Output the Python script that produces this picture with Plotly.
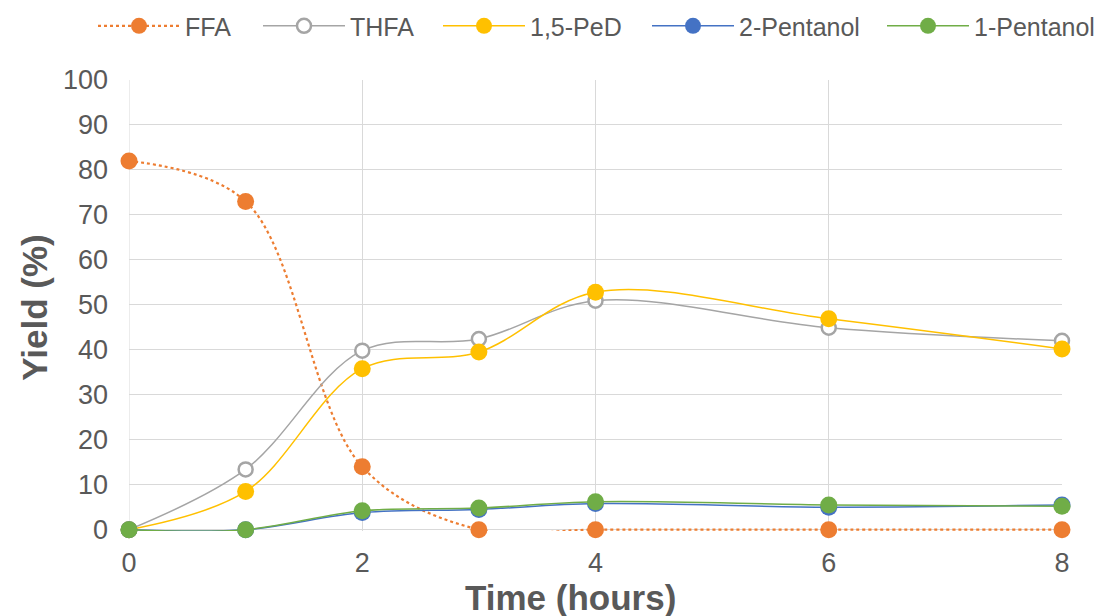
import plotly.graph_objects as go

time_h = [0, 1, 2, 3, 4, 6, 8]
ffa = [82, 73, 14, 0, 0, 0, 0]
thfa = [0, 13.4, 39.8, 42.4, 50.9, 44.9, 42]
ped = [0, 8.5, 35.8, 39.5, 52.8, 46.9, 40.2]
pentanol2 = [0, 0, 3.8, 4.5, 5.8, 5.0, 5.5]
pentanol1 = [0, 0, 4.2, 4.8, 6.2, 5.5, 5.2]

series_names = ["FFA", "THFA", "1,5-PeD", "2-Pentanol", "1-Pentanol"]
colors = ["#ED7D31", "#A5A5A5", "#FFC000", "#4472C4", "#70AD47"]

# layout geometry (pixels)
W, H = 1102, 616
L, R, T = 129, 40, 80
Y_MIN, Y_MAX = -0.3, 100
PX_PER_UNIT = 4.5
plot_h = (Y_MAX - Y_MIN) * PX_PER_UNIT
B = H - T - plot_h
plot_w = W - L - R
plot_bottom = T + plot_h


def px_x(px):
    return (px - L) / plot_w


def px_y(py):
    return (plot_bottom - py) / plot_h


legend_line_starts = [103, 268, 448, 657, 892]
legend_ids = ["legend", "legend2", "legend3", "legend4", "legend5"]

fig = go.Figure()


def add(i, ys, dash="solid", hollow=False, lw=1.5):
    color = colors[i]
    marker = dict(size=17, color=color, line=dict(width=0))
    if hollow:
        marker = dict(size=14, color="white", line=dict(width=2.5, color=color))
    fig.add_trace(go.Scatter(
        x=time_h, y=ys, name=series_names[i], mode="lines+markers",
        line=dict(color=color, width=lw, dash=dash, shape="spline", smoothing=1),
        marker=marker, cliponaxis=False, legend=legend_ids[i],
    ))


add(0, ffa, dash="dot", lw=2.2)
add(1, thfa, hollow=True)
add(2, ped)
add(3, pentanol2)
add(4, pentanol1)

font_family = "Liberation Sans, Arial, sans-serif"
text_color = "#595959"
grid_color = "#D9D9D9"

legends = {}
for i, lid in enumerate(legend_ids):
    legends[lid] = dict(
        orientation="h", x=px_x(legend_line_starts[i] - 10), xanchor="left",
        y=px_y(26), yanchor="middle",
        font=dict(size=25, color=text_color, family=font_family), itemwidth=82,
        bgcolor="rgba(0,0,0,0)", borderwidth=0,
    )

fig.update_layout(
    width=W, height=H,
    margin=dict(l=L, r=R, t=T, b=B, autoexpand=False),
    paper_bgcolor="white", plot_bgcolor="white",
    font=dict(family=font_family, color=text_color, size=25),
    showlegend=True,
    xaxis=dict(range=[0, 8], tickvals=[0, 2, 4, 6, 8], showgrid=True,
               gridcolor=grid_color, gridwidth=1, zeroline=False,
               showline=False, layer="below traces",
               tickfont=dict(size=27, color=text_color), ticks="",
               ticklabelstandoff=13),
    yaxis=dict(range=[Y_MIN, Y_MAX], tickvals=list(range(0, 101, 10)), showgrid=True,
               gridcolor=grid_color, gridwidth=1, zeroline=False,
               showline=False, layer="below traces",
               tickfont=dict(size=27, color=text_color), ticks="", ticklabelstandoff=20),
    shapes=[
        dict(type="line", xref="x", yref="y", x0=0, x1=0, y0=0, y1=Y_MAX,
             line=dict(color=grid_color, width=1), layer="below"),
    ],
    annotations=[
        dict(text="<b>Time (hours)</b>", xref="paper", yref="paper",
             x=px_x(570), y=px_y(598), xanchor="center", yanchor="middle",
             showarrow=False, font=dict(size=35, color=text_color, family=font_family)),
        dict(text="<b>Yield (%)</b>", xref="paper", yref="paper",
             x=px_x(35), y=px_y(308), xanchor="center", yanchor="middle",
             textangle=-90, showarrow=False,
             font=dict(size=35, color=text_color, family=font_family)),
    ],
    **legends,
)

fig.write_html("out.html", config={"displayModeBar": False},
               post_script="document.body.style.margin='0';")
